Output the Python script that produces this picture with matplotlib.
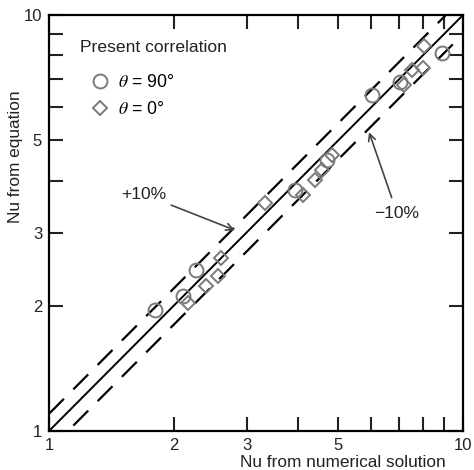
import numpy as np
import matplotlib
matplotlib.use("Agg")
import matplotlib.pyplot as plt
from matplotlib.ticker import FixedLocator, NullLocator, FixedFormatter
from matplotlib.lines import Line2D

plt.rcParams['font.family'] = ['Liberation Sans', 'DejaVu Sans']
plt.rcParams['mathtext.fontset'] = 'stix'

# theta = 90 deg (circles)
nu_num_90 = [1.80, 2.11, 2.26, 3.93, 4.69, 6.03, 7.04, 8.90]
nu_eq_90 = [1.95, 2.11, 2.44, 3.80, 4.48, 6.42, 6.90, 8.10]

# theta = 0 deg (diamonds)
nu_num_0 = [2.17, 2.39, 2.56, 2.60, 3.32, 4.11, 4.39, 4.57, 4.83, 7.20, 7.53, 8.00, 8.05]
nu_eq_0 = [2.03, 2.23, 2.36, 2.61, 3.53, 3.69, 4.01, 4.24, 4.61, 6.79, 7.38, 7.46, 8.42]

tick_vals = [1, 2, 3, 5, 10]
tick_labels = ['1', '2', '3', '5', '10']
band = 0.10

fig = plt.figure(figsize=(4.74, 4.70), dpi=100)
ax = fig.add_axes([0.1034, 0.083, 0.8734, 0.885])

xs = np.array([1.0, 10.0])
ax.plot(xs, xs, color='black', lw=1.4)
ax.plot(xs, xs * (1 + band), color='black', lw=1.6, dashes=(9.5, 6))
ax.plot(xs, xs * (1 - band), color='black', lw=1.6, dashes=(9.5, 6))

gray = '#7a7a7a'
ax.plot(nu_num_90, nu_eq_90, 'o', ms=10, mfc='none', mec=gray, mew=1.4, ls='none')
ax.plot(nu_num_0, nu_eq_0, 'D', ms=7.5, mfc='none', mec=gray, mew=1.4, ls='none')

ax.set_xscale('log')
ax.set_yscale('log')
ax.set_xlim(1, 10)
ax.set_ylim(1, 10)

major = [1, 2, 3, 4, 5, 6, 7, 8, 9, 10]
for axis in (ax.xaxis, ax.yaxis):
    axis.set_major_locator(FixedLocator(major))
    axis.set_minor_locator(NullLocator())
    axis.set_major_formatter(FixedFormatter(
        [tick_labels[tick_vals.index(v)] if v in tick_vals else '' for v in major]))

ax.tick_params(which='both', direction='in', length=10, width=1.5,
               top=True, right=True, labelsize=12, pad=5, colors='#222222')
for sp in ax.spines.values():
    sp.set_linewidth(1.6)

ax.set_xlabel('Nu from numerical solution', fontsize=12.4, color='#222222')
ax.xaxis.set_label_coords(0.71, -0.058)
ax.set_ylabel('Nu from equation', fontsize=12.4, color='#222222')
ax.yaxis.set_label_coords(-0.063, 0.66)

# legend
ax.text(0.075, 0.923, 'Present correlation', transform=ax.transAxes,
        fontsize=12.6, ha='left', va='center', color='#222222')
handles = [
    Line2D([], [], marker='o', ms=10, mfc='none', mec=gray, mew=1.4, ls='none'),
    Line2D([], [], marker='D', ms=7.5, mfc='none', mec=gray, mew=1.4, ls='none'),
]
leg = ax.legend(handles, [r'$\theta$ = 90°', r'$\theta$ = 0°'],
                loc='upper left', bbox_to_anchor=(0.097, 0.858),
                frameon=False, fontsize=12.8, borderpad=0, borderaxespad=0,
                handletextpad=0.4, labelspacing=0.56, handlelength=1.2)

ax.annotate('+10%', xy=(2.81, 3.04), xytext=(1.69, 3.71), fontsize=12.5,
            ha='center', va='center', color='#222222',
            arrowprops=dict(arrowstyle='->', color='#444444', lw=1.2,
                            shrinkA=2, shrinkB=0))
ax.annotate('\u221210%', xy=(5.93, 5.23), xytext=(6.93, 3.34), fontsize=12.5,
            ha='center', va='center', color='#222222',
            arrowprops=dict(arrowstyle='->', color='#444444', lw=1.2,
                            shrinkA=4, shrinkB=0))

fig.savefig('out.png', dpi=100)
